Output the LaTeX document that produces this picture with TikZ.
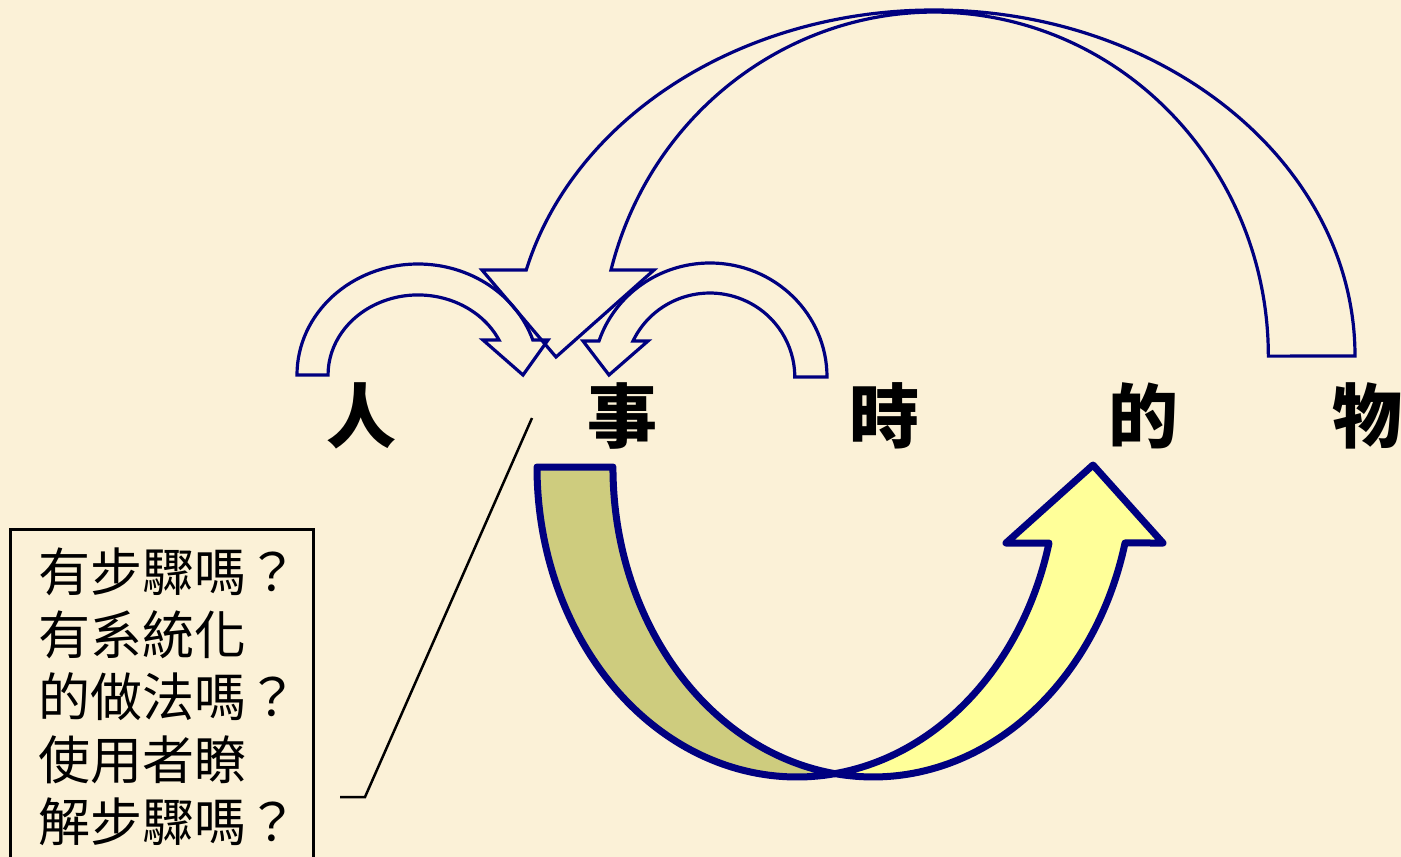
\documentclass[tikz,border=0pt]{standalone}
\usepackage{fontspec}
\newfontfamily\cjk{Noto Sans CJK TC}
\usepackage{xcolor}
\usepackage{tikz}

\definecolor{parchment}{RGB}{251,241,215}
\definecolor{navyline}{RGB}{0,0,128}
\definecolor{olivebk}{RGB}{206,204,126}
\definecolor{paleyellow}{RGB}{255,255,153}

\begin{document}
\begin{tikzpicture}[x=1pt, y=-1pt,
    hollow/.style={draw=navyline, line width=3.2pt, line join=miter},
    bowl/.style={draw=navyline, line width=7pt, line join=round},
    word/.style={font=\cjk\bfseries\fontsize{70}{80}\selectfont, inner sep=0pt},
    boxtext/.style={font=\cjk\fontsize{52}{62.5}\selectfont, align=left, inner sep=0pt}]

\useasboundingbox (0,0) rectangle (1401,857);
\fill[parchment] (0,0) rectangle (1401,857);

\foreach \c/\x/\n in {人/361/ren, 事/622/shi, 時/884/shih, 的/1143/de, 物/1367/wu}{
    \node[word] (\n) at (\x,416) {\c};
}

% big hollow arrow over the top
\draw[hollow] (1355,356) arc[start angle=0, end angle=165.6, x radius=421pt, y radius=346pt]
  -- (482,270) -- (556,357) -- (654,270) -- (611,270)
  arc[start angle=165.5, end angle=0, x radius=334pt, y radius=344pt] -- cycle;

% two small hollow arrows
\draw[hollow] (297,375) arc[start angle=180, end angle=18.4, x radius=121pt, y radius=111pt]
  -- (548,340) -- (523,375) -- (483,340) -- (499,340)
  arc[start angle=25.9, end angle=180, x radius=90pt, y radius=80pt] -- cycle;

\draw[hollow] (827,377) arc[start angle=0, end angle=161.6, x radius=117pt, y radius=114pt]
  -- (583,341) -- (609,375) -- (648,341) -- (633,341)
  arc[start angle=154.6, end angle=0, x radius=85pt, y radius=84pt] -- cycle;

% the bowl underneath
\coordinate (vee) at (835,773.6);
\filldraw[bowl, fill=olivebk] (537,467)
  arc[start angle=180, end angle=278.4, x radius=260pt, y radius=310pt]
  arc[start angle=261.6, end angle=180, x radius=260pt, y radius=310pt] -- cycle;
\filldraw[bowl, fill=paleyellow] (vee)
  arc[start angle=261.6, end angle=345.8, x radius=260pt, y radius=310pt]
  -- (1163,543) -- (1093,465) -- (1006,543) -- (1049,543)
  arc[start angle=345.8, end angle=278.4, x radius=260pt, y radius=310pt] -- cycle;

% callout
\draw[black, line width=3pt] (10,529) rectangle (313,880);
\node[boxtext, anchor=north west] (ask) at (38,548)
  {有步驟嗎？\\有系統化\\的做法嗎？\\使用者瞭\\解步驟嗎？};
\coordinate (tip) at (532,418);
\coordinate (knee) at (365,797);
\coordinate (tail) at (340,797);
\draw[black, line width=2.5pt] (tail) -- (knee) -- (tip);

\end{tikzpicture}
\end{document}
